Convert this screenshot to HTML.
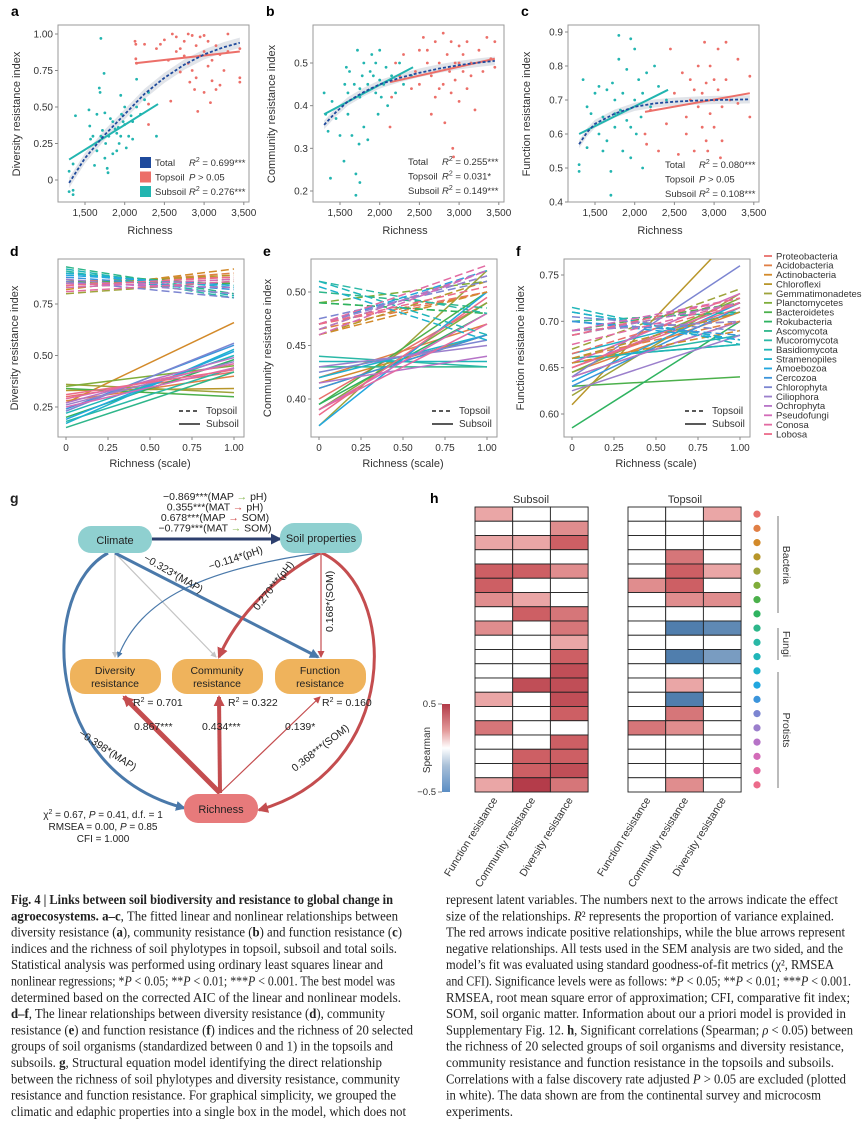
<!DOCTYPE html>
<html><head><meta charset="utf-8"><style>
html,body{margin:0;padding:0;background:#fff}
svg{display:block;font-family:"Liberation Sans",sans-serif}
</style></head><body>
<svg id="fig" width="865" height="1124" viewBox="0 0 865 1124" xmlns="http://www.w3.org/2000/svg">
<defs>
<marker id="mBlue" markerWidth="6" markerHeight="6" refX="5" refY="3" orient="auto" markerUnits="userSpaceOnUse" viewBox="0 0 6 6"><path d="M0,0 L6,3 L0,6 z" fill="#4a79aa"/></marker>
<marker id="mRed" markerWidth="7" markerHeight="7" refX="6" refY="3.5" orient="auto" markerUnits="userSpaceOnUse" viewBox="0 0 7 7"><path d="M0,0 L7,3.5 L0,7 z" fill="#c44d4f"/></marker>
<marker id="mRedBig" markerWidth="11" markerHeight="11" refX="9" refY="5.5" orient="auto" markerUnits="userSpaceOnUse" viewBox="0 0 11 11"><path d="M0,0 L11,5.5 L0,11 z" fill="#c44d4f"/></marker>
<marker id="mBlueBig" markerWidth="10" markerHeight="10" refX="8" refY="5" orient="auto" markerUnits="userSpaceOnUse" viewBox="0 0 10 10"><path d="M0,0 L10,5 L0,10 z" fill="#4a79aa"/></marker>
<marker id="mNavy" markerWidth="11" markerHeight="11" refX="9" refY="5.5" orient="auto" markerUnits="userSpaceOnUse" viewBox="0 0 11 11"><path d="M0,0 L11,5.5 L0,11 z" fill="#2d3f6e"/></marker>
<marker id="mGray" markerWidth="6" markerHeight="6" refX="5" refY="3" orient="auto" markerUnits="userSpaceOnUse" viewBox="0 0 6 6"><path d="M0,0 L6,3 L0,6 z" fill="#c4c4c4"/></marker>
<linearGradient id="cbar" x1="0" y1="0" x2="0" y2="1">
<stop offset="0" stop-color="#b23a48"/><stop offset="0.3" stop-color="#e39a9a"/><stop offset="0.5" stop-color="#ffffff"/><stop offset="0.7" stop-color="#a9c0d8"/><stop offset="1" stop-color="#5a8dc4"/>
</linearGradient>
</defs>
<g id="panels-abc"></g>
<g id="panels-def"></g>

<g id="panel-g" font-size="10.5" fill="#222">
<text x="10" y="503" font-size="14" font-weight="bold">g</text>
<g text-anchor="middle" font-size="10.5">
<text x="215" y="500">−0.869***(MAP<tspan fill="#8dbb5a"> → </tspan>pH)</text>
<text x="215" y="510.5">0.355***(MAT<tspan fill="#d0504f"> → </tspan>pH)</text>
<text x="215" y="521">0.678***(MAP<tspan fill="#d0504f"> → </tspan>SOM)</text>
<text x="215" y="531.5">−0.779***(MAT<tspan fill="#8dbb5a"> → </tspan>SOM)</text>
</g>
<path d="M152,539 L280,539" stroke="#2d3f6e" stroke-width="3" fill="none" marker-end="url(#mNavy)"/>
<path d="M115,553 L115,657" stroke="#c4c4c4" stroke-width="1.2" fill="none" marker-end="url(#mGray)"/>
<path d="M115,553 L216,657" stroke="#c4c4c4" stroke-width="1.2" fill="none" marker-end="url(#mGray)"/>
<path d="M115,553 L318,657" stroke="#4a79aa" stroke-width="3" fill="none" marker-end="url(#mBlueBig)"/>
<path d="M108,553 C40,590 40,770 184,808" stroke="#4a79aa" stroke-width="3" fill="none" marker-end="url(#mBlueBig)"/>
<path d="M318,553 C200,570 140,600 118,657" stroke="#4a79aa" stroke-width="1.2" fill="none" marker-end="url(#mBlue)"/>
<path d="M320,553 C270,580 235,620 219,657" stroke="#c44d4f" stroke-width="3" fill="none" marker-end="url(#mRedBig)"/>
<path d="M321,553 L321,657" stroke="#c44d4f" stroke-width="1.2" fill="none" marker-end="url(#mRed)"/>
<path d="M322,553 C400,590 400,770 259,810" stroke="#c44d4f" stroke-width="3" fill="none" marker-end="url(#mRedBig)"/>
<path d="M220,793 L124,697" stroke="#c44d4f" stroke-width="5" fill="none" marker-end="url(#mRedBig)"/>
<path d="M220,793 L219,697" stroke="#c44d4f" stroke-width="4" fill="none" marker-end="url(#mRedBig)"/>
<path d="M220,793 L320,697" stroke="#c44d4f" stroke-width="1.2" fill="none" marker-end="url(#mRed)"/>
<rect x="78" y="526" width="74" height="27" rx="13" fill="#8fd0d0"/>
<text x="115" y="544" text-anchor="middle" font-size="11">Climate</text>
<rect x="280" y="523" width="82" height="30" rx="14" fill="#8fd0d0"/>
<text x="321" y="542" text-anchor="middle" font-size="11">Soil properties</text>
<rect x="70" y="659" width="91" height="35" rx="15" fill="#efb35c"/>
<text x="115" y="674" text-anchor="middle" font-size="10.5">Diversity</text><text x="115" y="687" text-anchor="middle" font-size="10.5">resistance</text>
<rect x="172" y="659" width="91" height="35" rx="15" fill="#efb35c"/>
<text x="217" y="674" text-anchor="middle" font-size="10.5">Community</text><text x="217" y="687" text-anchor="middle" font-size="10.5">resistance</text>
<rect x="275" y="659" width="91" height="35" rx="15" fill="#efb35c"/>
<text x="320" y="674" text-anchor="middle" font-size="10.5">Function</text><text x="320" y="687" text-anchor="middle" font-size="10.5">resistance</text>
<rect x="184" y="794" width="74" height="29" rx="14" fill="#e77a7b"/>
<text x="221" y="813" text-anchor="middle" font-size="11">Richness</text>
<text x="133" y="706" font-size="10.5">R<tspan font-size="7" dy="-4">2</tspan><tspan dy="4"> = 0.701</tspan></text>
<text x="228" y="706" font-size="10.5">R<tspan font-size="7" dy="-4">2</tspan><tspan dy="4"> = 0.322</tspan></text>
<text x="322" y="706" font-size="10.5">R<tspan font-size="7" dy="-4">2</tspan><tspan dy="4"> = 0.160</tspan></text>
<text x="134" y="730" font-size="10.5">0.867***</text>
<text x="202" y="730" font-size="10.5">0.434***</text>
<text x="285" y="730" font-size="10.5">0.139*</text>
<text transform="translate(143,560) rotate(30)" font-size="10.5">−0.323*(MAP)</text>
<text transform="translate(210,570) rotate(-18)" font-size="10.5">−0.114*(pH)</text>
<text transform="translate(258,611) rotate(-52)" font-size="10.5">0.270***(pH)</text>
<text transform="translate(333,632) rotate(-90)" font-size="10.5">0.168*(SOM)</text>
<text transform="translate(78,735) rotate(33)" font-size="10.5">−0.398*(MAP)</text>
<text transform="translate(295,772) rotate(-38)" font-size="10.5">0.368***(SOM)</text>
<g text-anchor="middle" font-size="10">
<text x="103" y="818">χ<tspan font-size="7" dy="-4">2</tspan><tspan dy="4"> = 0.67, </tspan><tspan font-style="italic">P</tspan> = 0.41, d.f. = 1</text>
<text x="103" y="830">RMSEA = 0.00, <tspan font-style="italic">P</tspan> = 0.85</text>
<text x="103" y="842">CFI = 1.000</text>
</g>
</g>

<g id="panel-h">
<text x="430" y="503" font-size="14" font-weight="bold">h</text>
<text x="531" y="503" text-anchor="middle" font-size="11" fill="#333">Subsoil</text>
<text x="685" y="503" text-anchor="middle" font-size="11" fill="#333">Topsoil</text>
<rect x="442" y="704" width="8" height="88" fill="url(#cbar)"/>
<line x1="438" y1="704" x2="442" y2="704" stroke="#888"/><line x1="438" y1="792" x2="442" y2="792" stroke="#888"/>
<text x="436" y="707" text-anchor="end" font-size="9.5" fill="#333">0.5</text>
<text x="436" y="795" text-anchor="end" font-size="9.5" fill="#333">−0.5</text>
<text transform="translate(430,750) rotate(-90)" text-anchor="middle" font-size="10" fill="#333">Spearman</text>
<g id="heat-cells"></g>
<g id="heat-dots"></g>
<line x1="778" y1="516" x2="778" y2="613" stroke="#555" stroke-width="0.8"/>
<line x1="778" y1="628" x2="778" y2="660" stroke="#555" stroke-width="0.8"/>
<line x1="778" y1="672" x2="778" y2="788" stroke="#555" stroke-width="0.8"/>
<text transform="translate(783,565) rotate(90)" text-anchor="middle" font-size="10.5" fill="#333">Bacteria</text>
<text transform="translate(783,644) rotate(90)" text-anchor="middle" font-size="10.5" fill="#333">Fungi</text>
<text transform="translate(783,730) rotate(90)" text-anchor="middle" font-size="10.5" fill="#333">Protists</text>
<g id="heat-xlabels" font-size="10.5" fill="#333"></g>
</g>

<g id="caption" font-family="Liberation Serif, serif" font-size="13.5" fill="#222"></g>
</svg>
<script>
const NS = 'http://www.w3.org/2000/svg';
function mk(tag, attrs, parent, txt) {
  const e = document.createElementNS(NS, tag);
  for (const k in attrs) e.setAttribute(k, attrs[k]);
  if (txt !== undefined) e.textContent = txt;
  if (parent) parent.appendChild(e);
  return e;
}

const aSubX = [1300,1300,1350,1350,1350,1380,1550,1560,1570,1600,1620,1650,1680,1690,1700,1720,1740,1750,1760,1780,1790,1800,1820,1850,1880,1900,1920,1930,1950,1960,1980,2000,2020,2050,2080,2100,2150,2150,2200,2250,2300,2400,1850,1950,1750,1900,2000,1650,1700,2100];
const aSubY = [0.06,-0.08,-0.1,-0.07,0.11,0.44,0.48,0.37,0.28,0.3,0.1,0.2,0.63,0.6,0.97,0.34,0.73,0.46,0.25,0.08,0.05,0.3,0.42,0.18,0.35,0.32,0.36,0.25,0.58,0.45,0.4,0.38,0.22,0.3,0.44,0.28,0.5,0.69,0.45,0.55,0.6,0.3,0.4,0.3,0.15,0.2,0.5,0.45,0.3,0.4];
const aTopX = [2130,2140,2140,2150,2250,2300,2300,2400,2450,2500,2550,2580,2600,2650,2700,2700,2750,2800,2800,2820,2850,2880,2900,2900,2920,2950,2950,3000,3000,3050,3050,3080,3100,3100,3150,3150,3200,3250,3300,3300,3450,3450,3450,2750,2650,3000,2850,3200];
const aTopY = [0.95,0.93,0.83,0.8,0.93,0.52,0.38,0.9,0.93,0.96,0.82,0.54,1.0,0.98,0.9,0.74,0.95,1.0,0.8,0.67,0.99,0.62,0.92,0.7,0.47,0.85,0.98,0.6,0.88,0.78,0.95,0.53,0.82,0.68,0.92,0.62,0.86,0.75,1.0,0.88,0.7,0.67,0.9,0.85,0.88,0.99,0.75,0.65];
const aTotalFitX = [1300,1500,1750,2000,2250,2500,2750,3000,3250,3450];
const aTotalFitY = [-0.02,0.15,0.31,0.45,0.59,0.7,0.79,0.86,0.91,0.94];
const aTopFit = [2130,0.8,3450,0.88];
const aSubFit = [1300,0.14,2420,0.52];

const bSubX = [1300,1320,1350,1380,1400,1450,1500,1550,1560,1580,1600,1620,1650,1680,1700,1700,1720,1740,1750,1750,1780,1800,1800,1850,1850,1880,1900,1900,1920,1950,1950,1980,2000,2000,2020,2050,2080,2100,2150,2200,2250,2300,2400,1600,1750];
const bSubY = [0.43,0.38,0.34,0.23,0.41,0.37,0.33,0.27,0.45,0.49,0.43,0.48,0.33,0.45,0.19,0.24,0.53,0.31,0.22,0.42,0.47,0.35,0.5,0.45,0.32,0.48,0.44,0.52,0.47,0.43,0.5,0.38,0.46,0.53,0.42,0.45,0.49,0.4,0.47,0.43,0.5,0.45,0.47,0.38,0.44];
const bTopX = [2130,2150,2200,2250,2300,2400,2450,2500,2500,2550,2600,2650,2650,2700,2700,2750,2800,2800,2820,2850,2880,2900,2900,2920,2930,2950,2950,3000,3000,3050,3050,3100,3100,3150,3150,3200,3250,3300,3350,3400,3450,3450,2600,2750,3000];
const bTopY = [0.35,0.42,0.5,0.47,0.52,0.44,0.48,0.53,0.45,0.56,0.5,0.38,0.47,0.55,0.42,0.5,0.57,0.45,0.36,0.52,0.48,0.55,0.43,0.3,0.28,0.5,0.46,0.54,0.41,0.48,0.52,0.44,0.55,0.5,0.47,0.39,0.53,0.48,0.56,0.51,0.55,0.49,0.53,0.44,0.5];
const bTotalFitX = [1300,1450,1600,1800,2000,2250,2500,2750,3000,3250,3450];
const bTotalFitY = [0.355,0.385,0.41,0.432,0.45,0.465,0.477,0.487,0.495,0.501,0.505];
const bTopFit = [2130,0.455,3450,0.51];
const bSubFit = [1300,0.38,2420,0.49];

const cSubX = [1300,1300,1350,1400,1400,1450,1500,1550,1550,1600,1650,1650,1700,1700,1720,1750,1750,1800,1800,1820,1850,1850,1900,1900,1950,1950,2000,2000,2020,2050,2080,2100,2100,2150,2200,2250,2300,2400,1600,1750,1950];
const cSubY = [0.51,0.49,0.76,0.68,0.56,0.66,0.72,0.6,0.74,0.65,0.73,0.58,0.42,0.49,0.75,0.62,0.7,0.89,0.82,0.67,0.55,0.72,0.64,0.79,0.88,0.53,0.85,0.7,0.6,0.76,0.65,0.5,0.72,0.78,0.68,0.8,0.74,0.7,0.55,0.66,0.62];
const cTopX = [2130,2150,2200,2300,2400,2450,2500,2550,2600,2650,2650,2700,2700,2750,2800,2800,2850,2850,2880,2900,2900,2920,2950,2950,3000,3000,3050,3050,3080,3100,3100,3150,3150,3200,3300,3300,3450,3450,2750,3000];
const cTopY = [0.6,0.57,0.67,0.55,0.63,0.85,0.72,0.54,0.78,0.65,0.6,0.76,0.7,0.55,0.8,0.68,0.72,0.62,0.87,0.75,0.58,0.55,0.66,0.8,0.7,0.62,0.85,0.73,0.53,0.68,0.58,0.76,0.87,0.7,0.82,0.69,0.77,0.65,0.73,0.76];
const cTotalFitX = [1300,1400,1500,1750,2000,2250,2500,2750,3000,3250,3450];
const cTotalFitY = [0.57,0.605,0.63,0.66,0.68,0.69,0.695,0.698,0.7,0.701,0.702];
const cTopFit = [2130,0.665,3450,0.72];
const cSubFit = [1300,0.6,2420,0.73];

const xTicksRich = [1500,2000,2500,3000,3500];
const xTickLabelsRich = ['1,500','2,000','2,500','3,000','3,500'];
const aYTicks = [0,0.25,0.5,0.75,1.0];
const aYTickLabels = ['0','0.25','0.50','0.75','1.00'];
const bYTicks = [0.2,0.3,0.4,0.5];
const bYTickLabels = ['0.2','0.3','0.4','0.5'];
const cYTicks = [0.4,0.5,0.6,0.7,0.8,0.9];
const cYTickLabels = ['0.4','0.5','0.6','0.7','0.8','0.9'];

const TEAL = '#22b5b0', RED = '#ec6f69', NAVY = '#1f4a9c';

function scatterPanel(cfg) {
  const root = document.getElementById('panels-abc');
  const g = mk('g', {}, root);
  
  
  const X = v => cfg.x0 + (v - 1500) / 500 * 39.7;
  const Y = v => cfg.yA + (v - cfg.vA) / (cfg.vB - cfg.vA) * (cfg.yB - cfg.yA);
  const L = mk('text', {x: cfg.left - 47, y: 16, 'font-size': 14, 'font-weight': 'bold'}, g, cfg.letter);
  
  
  const frame = mk('rect', {x: cfg.left, y: 25, width: 191, height: 177, fill: '#fff', stroke: '#9a9a9a', 'stroke-width': 1}, g);
  
  
  cfg.yt.forEach((t, i) => {
    mk('line', {x1: cfg.left - 3, x2: cfg.left, y1: Y(t), y2: Y(t), stroke: '#888'}, g);
    const tl = mk('text', {x: cfg.left - 5, y: Y(t) + 3.5, 'text-anchor': 'end', 'font-size': 10, fill: '#333'}, g, cfg.ytl[i]);
    
    
  });
  xTicksRich.forEach((t, i) => {
    mk('line', {x1: X(t), x2: X(t), y1: 202, y2: 205, stroke: '#888'}, g);
    const tl = mk('text', {x: X(t), y: 216, 'text-anchor': 'middle', 'font-size': 10, fill: '#333'}, g, xTickLabelsRich[i]);
    
    
  });
  const xt = mk('text', {x: cfg.left + 92, y: 234, 'text-anchor': 'middle', 'font-size': 11, fill: '#333'}, g, 'Richness');
  
  
  const yt = mk('text', {transform: `translate(${cfg.left - 38},114) rotate(-90)`, 'text-anchor': 'middle', 'font-size': 11, fill: '#333'}, g, cfg.ytitle);
  
  
  let up = [], dn = [];
  cfg.fx.forEach((v, i) => { up.push(X(v) + ',' + Y(cfg.fy[i] + cfg.band)); dn.unshift(X(v) + ',' + Y(cfg.fy[i] - cfg.band)); });
  const band = mk('polygon', {points: up.concat(dn).join(' '), fill: '#d9dde3', opacity: 0.8}, g);
  
  
  cfg.sx.forEach((v, i) => {
    const c = mk('circle', {cx: X(v), cy: Y(cfg.sy[i]), r: 1.4, fill: TEAL}, g);
    
    
  });
  cfg.tx.forEach((v, i) => {
    const c = mk('circle', {cx: X(v), cy: Y(cfg.ty[i]), r: 1.4, fill: RED}, g);
    
    
  });
  const tf = mk('line', {x1: X(cfg.tfit[0]), y1: Y(cfg.tfit[1]), x2: X(cfg.tfit[2]), y2: Y(cfg.tfit[3]), stroke: RED, 'stroke-width': 2}, g);
  
  
  const sf = mk('line', {x1: X(cfg.sfit[0]), y1: Y(cfg.sfit[1]), x2: X(cfg.sfit[2]), y2: Y(cfg.sfit[3]), stroke: TEAL, 'stroke-width': 2}, g);
  
  
  const tot = mk('polyline', {points: cfg.fx.map((v, i) => X(v) + ',' + Y(cfg.fy[i])).join(' '), fill: 'none', stroke: NAVY, 'stroke-width': 1.8, 'stroke-dasharray': '3,2'}, g);
  
  
  const lg = mk('g', {'font-size': 9.5, fill: '#333'}, g);
  
  
  const names = ['Total', 'Topsoil', 'Subsoil'], cols = [NAVY, RED, TEAL];
  names.forEach((n, i) => {
    const yy = cfg.legY + i * 14.5;
    if (cfg.sw) {
      const s = mk('rect', {x: cfg.legX - 15, y: yy - 9, width: 11, height: 11, fill: cols[i]}, lg);
      
      
    }
    const t = mk('text', {x: cfg.legX, y: yy}, lg, n);
    
    
    const st = mk('text', {x: cfg.legX + 34, y: yy}, lg);
    st.innerHTML = cfg.stats[i];
  });
}
const R2 = v => `<tspan font-style="italic">R</tspan><tspan font-size="7" dy="-4">2</tspan><tspan dy="4"> = ${v}</tspan>`;
const PNS = `<tspan font-style="italic">P</tspan> &gt; 0.05`;
scatterPanel({letter:'a', left:58, x0:85, yA:180, vA:0, yB:34, vB:1.0, yt:aYTicks, ytl:aYTickLabels, ytitle:'Diversity resistance index',
  sx:aSubX, sy:aSubY, tx:aTopX, ty:aTopY, fx:aTotalFitX, fy:aTotalFitY, tfit:aTopFit, sfit:aSubFit, band:0.035,
  legX:155, legY:166, sw:true, stats:[R2('0.699***'), PNS, R2('0.276***')]});
scatterPanel({letter:'b', left:313, x0:340, yA:191, vA:0.2, yB:63, vB:0.5, yt:bYTicks, ytl:bYTickLabels, ytitle:'Community resistance index',
  sx:bSubX, sy:bSubY, tx:bTopX, ty:bTopY, fx:bTotalFitX, fy:bTotalFitY, tfit:bTopFit, sfit:bSubFit, band:0.01,
  legX:408, legY:165, sw:false, stats:[R2('0.255***'), R2('0.031*'), R2('0.149***')]});
scatterPanel({letter:'c', left:568, x0:595, yA:202, vA:0.4, yB:32, vB:0.9, yt:cYTicks, ytl:cYTickLabels, ytitle:'Function resistance index',
  sx:cSubX, sy:cSubY, tx:cTopX, ty:cTopY, fx:cTotalFitX, fy:cTotalFitY, tfit:cTopFit, sfit:cSubFit, band:0.012,
  legX:665, legY:168, sw:false, stats:[R2('0.080***'), PNS, R2('0.108***')]});

const groups = ['Proteobacteria','Acidobacteria','Actinobacteria','Chloroflexi','Gemmatimonadetes','Planctomycetes','Bacteroidetes','Rokubacteria','Ascomycota','Mucoromycota','Basidiomycota','Stramenopiles','Amoebozoa','Cercozoa','Chlorophyta','Ciliophora','Ochrophyta','Pseudofungi','Conosa','Lobosa'];
const groupColors = ['#e8706b','#e07f45','#d38a2a','#b8962a','#9ea33a','#7fad3a','#4bb04b','#2fb360','#2eb68a','#2ab8a6','#20b6b8','#1eb2cc','#22a7df','#3b94db','#7c85d1','#9b7fcc','#b673c7','#d36bb8','#e26aa2','#ec6b8a'];
const dTopStart = [0.86,0.84,0.82,0.85,0.80,0.83,0.86,0.90,0.93,0.91,0.92,0.90,0.89,0.88,0.86,0.87,0.85,0.83,0.81,0.84];
const dTopEnd   = [0.88,0.90,0.92,0.89,0.86,0.87,0.85,0.84,0.80,0.78,0.79,0.83,0.84,0.82,0.78,0.80,0.83,0.87,0.86,0.88];
const dSubStart = [0.30,0.28,0.27,0.33,0.36,0.35,0.34,0.20,0.15,0.18,0.22,0.17,0.19,0.24,0.23,0.26,0.27,0.25,0.29,0.31];
const dSubEnd   = [0.42,0.40,0.66,0.34,0.32,0.45,0.30,0.48,0.42,0.44,0.50,0.53,0.52,0.55,0.56,0.47,0.49,0.44,0.46,0.43];
const eTopStart = [0.47,0.465,0.46,0.46,0.465,0.49,0.49,0.49,0.50,0.51,0.51,0.505,0.47,0.47,0.475,0.47,0.465,0.46,0.47,0.47];
const eTopEnd   = [0.50,0.50,0.50,0.51,0.52,0.51,0.48,0.48,0.485,0.48,0.46,0.455,0.52,0.515,0.51,0.515,0.52,0.52,0.525,0.505];
const eSubStart = [0.40,0.42,0.415,0.41,0.375,0.39,0.395,0.395,0.43,0.44,0.435,0.42,0.375,0.41,0.425,0.43,0.415,0.39,0.39,0.385];
const eSubEnd   = [0.49,0.47,0.46,0.46,0.52,0.49,0.50,0.48,0.43,0.43,0.435,0.46,0.50,0.46,0.455,0.45,0.44,0.48,0.47,0.495];
const fTopStart = [0.665,0.66,0.655,0.66,0.67,0.685,0.69,0.69,0.70,0.71,0.715,0.71,0.70,0.70,0.705,0.69,0.685,0.69,0.675,0.685];
const fTopEnd   = [0.72,0.70,0.69,0.71,0.735,0.72,0.72,0.70,0.71,0.68,0.675,0.68,0.68,0.685,0.69,0.70,0.72,0.725,0.72,0.725];
const fSubStart = [0.65,0.645,0.64,0.61,0.62,0.645,0.63,0.585,0.66,0.655,0.66,0.665,0.635,0.63,0.64,0.625,0.64,0.655,0.65,0.65];
const fSubEnd   = [0.72,0.71,0.70,0.80,0.73,0.725,0.64,0.70,0.675,0.685,0.675,0.71,0.72,0.715,0.76,0.685,0.70,0.73,0.72,0.715];
const scaleTicks = [0,0.25,0.5,0.75,1];
const scaleTickLabels = ['0','0.25','0.50','0.75','1.00'];
const dYTicks = [0.25,0.5,0.75]; const dYTickLabels = ['0.25','0.50','0.75'];
const eYTicks = [0.4,0.45,0.5]; const eYTickLabels = ['0.40','0.45','0.50'];
const fYTicks = [0.6,0.65,0.7,0.75]; const fYTickLabels = ['0.60','0.65','0.70','0.75'];

function linePanel(cfg) {
  const root = document.getElementById('panels-def');
  const g = mk('g', {}, root);
  
  
  const X = v => cfg.left + 8 + v * 168;
  const Y = v => cfg.yA + (v - cfg.vA) / (cfg.vB - cfg.vA) * (cfg.yB - cfg.yA);
  const L = mk('text', {x: cfg.left - 48, y: 256, 'font-size': 14, 'font-weight': 'bold'}, g, cfg.letter);
  
  
  const cid = 'clip' + cfg.letter;
  const cp = mk('clipPath', {id: cid}, g);
  mk('rect', {x: cfg.left, y: 259, width: 186, height: 178}, cp);
  const frame = mk('rect', {x: cfg.left, y: 259, width: 186, height: 178, fill: '#fff', stroke: '#9a9a9a'}, g);
  
  
  cfg.yt.forEach((t, i) => {
    mk('line', {x1: cfg.left - 3, x2: cfg.left, y1: Y(t), y2: Y(t), stroke: '#888'}, g);
    const tl = mk('text', {x: cfg.left - 5, y: Y(t) + 3.5, 'text-anchor': 'end', 'font-size': 10, fill: '#333'}, g, cfg.ytl[i]);
    
    
  });
  scaleTicks.forEach((t, i) => {
    mk('line', {x1: X(t), x2: X(t), y1: 437, y2: 440, stroke: '#888'}, g);
    const tl = mk('text', {x: X(t), y: 451, 'text-anchor': 'middle', 'font-size': 10, fill: '#333'}, g, scaleTickLabels[i]);
    
    
  });
  const xt = mk('text', {x: cfg.left + 92, y: 467, 'text-anchor': 'middle', 'font-size': 11, fill: '#333'}, g, 'Richness (scale)');
  
  
  const yt = mk('text', {transform: `translate(${cfg.left - 40},348) rotate(-90)`, 'text-anchor': 'middle', 'font-size': 11, fill: '#333'}, g, cfg.ytitle);
  
  
  const lines = mk('g', {'clip-path': `url(#${cid})`}, g);
  groups.forEach((n, i) => {
    const s = mk('line', {x1: X(0), y1: Y(cfg.ss[i]), x2: X(1), y2: Y(cfg.se[i]), stroke: groupColors[i], 'stroke-width': 1.5}, lines);
    
    
  });
  groups.forEach((n, i) => {
    const t = mk('line', {x1: X(0), y1: Y(cfg.ts[i]), x2: X(1), y2: Y(cfg.te[i]), stroke: groupColors[i], 'stroke-width': 1.5, 'stroke-dasharray': '8,4'}, lines);
    
    
  });
  const lg = mk('g', {'font-size': 10, fill: '#333'}, g);
  
  
  mk('line', {x1: cfg.left + 121, x2: cfg.left + 142, y1: 411, y2: 411, stroke: '#222', 'stroke-width': 1.6, 'stroke-dasharray': '4,3'}, lg);
  mk('text', {x: cfg.left + 148, y: 414}, lg, 'Topsoil');
  mk('line', {x1: cfg.left + 121, x2: cfg.left + 142, y1: 424, y2: 424, stroke: '#222', 'stroke-width': 1.6}, lg);
  mk('text', {x: cfg.left + 148, y: 427}, lg, 'Subsoil');
}
linePanel({letter:'d', left:58, yA:407, vA:0.25, yB:304, vB:0.75, yt:dYTicks, ytl:dYTickLabels, ytitle:'Diversity resistance index', ts:dTopStart, te:dTopEnd, ss:dSubStart, se:dSubEnd});
linePanel({letter:'e', left:311, yA:399, vA:0.4, yB:292, vB:0.5, yt:eYTicks, ytl:eYTickLabels, ytitle:'Community resistance index', ts:eTopStart, te:eTopEnd, ss:eSubStart, se:eSubEnd});
linePanel({letter:'f', left:564, yA:414, vA:0.6, yB:275, vB:0.75, yt:fYTicks, ytl:fYTickLabels, ytitle:'Function resistance index', ts:fTopStart, te:fTopEnd, ss:fSubStart, se:fSubEnd});

(function(){
  const root = document.getElementById('panels-def');
  const lg = mk('g', {'font-size': 9.5, fill: '#333'}, root);
  
  
  groups.forEach((n, i) => {
    const y = 256 + i * 9.37;
    mk('line', {x1: 764, x2: 772, y1: y, y2: y, stroke: groupColors[i], 'stroke-width': 1.8}, lg);
    const t = mk('text', {x: 776, y: y + 3.3}, lg, n);
    
    
  });
})();

const subFunc = [0.14,0,0.14,0,0.35,0.35,0.21,0,0.21,0,0,0,0,0.14,0,0.28,0,0,0,0.14];
const subComm = [0,0,0.14,0,0.35,0,0.14,0.35,0,0,0,0,0.42,0,0,0,0,0.35,0.35,0.49];
const subDiv  = [0,0.21,0.35,0,0.21,0,0,0.28,0.28,0.14,0.35,0.42,0.42,0.42,0.35,0,0.35,0.35,0.42,0.28];
const topFunc = [0,0,0,0,0,0.21,0,0,0,0,0,0,0,0,0,0.28,0,0,0,0];
const topComm = [0,0,0,0.28,0.35,0.35,0.21,0,-0.42,0,-0.42,0,0.14,-0.42,0.28,0.21,0,0,0,0.21];
const topDiv  = [0.14,0,0,0,0.14,0,0.21,0,-0.35,0,-0.28,0,0,0,0,0,0,0,0,0];
const heatCols = ['Function resistance','Community resistance','Diversity resistance'];

function lerp(a, b, t) { return a.map((v, i) => Math.round(v + (b[i] - v) * t)); }
function heatColor(v) {
  if (v === 0) return '#ffffff';
  const t = Math.min(1, Math.abs(v) / 0.5);
  let c;
  if (v > 0) {
    const s = [[255,255,255],[232,160,160],[205,95,100],[178,58,72]], p = [0, 0.3, 0.7, 1];
    let k = t < 0.3 ? 0 : t < 0.7 ? 1 : 2;
    c = lerp(s[k], s[k+1], (t - p[k]) / (p[k+1] - p[k]));
  } else {
    const s = [[255,255,255],[169,192,216],[86,130,176],[70,118,168]], p = [0, 0.3, 0.75, 1];
    let k = t < 0.3 ? 0 : t < 0.75 ? 1 : 2;
    c = lerp(s[k], s[k+1], (t - p[k]) / (p[k+1] - p[k]));
  }
  return `rgb(${c[0]},${c[1]},${c[2]})`;
}
(function(){
  const cells = document.getElementById('heat-cells');
  const cw = 37.7, rh = 14.25, top = 507;
  const blocks = [{x: 475, data: [subFunc, subComm, subDiv], name: 'subsoil'}, {x: 628, data: [topFunc, topComm, topDiv], name: 'topsoil'}];
  blocks.forEach(b => {
    b.data.forEach((col, ci) => {
      col.forEach((v, ri) => {
        const r = mk('rect', {x: b.x + ci * cw, y: top + ri * rh, width: cw, height: rh, fill: heatColor(v), stroke: '#222', 'stroke-width': 0.9}, cells);
        
        
      });
    });
    const xl = document.getElementById('heat-xlabels');
    heatCols.forEach((n, ci) => {
      const t = mk('text', {transform: `translate(${b.x + ci * cw + cw / 2 + 4},800) rotate(-58)`, 'text-anchor': 'end'}, xl, n);
      
      
    });
  });
  const dots = document.getElementById('heat-dots');
  groups.forEach((n, i) => {
    const d = mk('circle', {cx: 757, cy: top + i * rh + rh / 2, r: 3.6, fill: groupColors[i]}, dots);
    
    
  });
})();

const capLeft = [
 '<tspan font-weight="bold">Fig. 4 | Links between soil biodiversity and resistance to global change in</tspan>',
 '<tspan font-weight="bold">agroecosystems. a–c</tspan>, The fitted linear and nonlinear relationships between',
 'diversity resistance (<tspan font-weight="bold">a</tspan>), community resistance (<tspan font-weight="bold">b</tspan>) and function resistance (<tspan font-weight="bold">c</tspan>)',
 'indices and the richness of soil phylotypes in topsoil, subsoil and total soils.',
 'Statistical analysis was performed using ordinary least squares linear and',
 'nonlinear regressions; *<tspan font-style="italic">P</tspan> &lt; 0.05; **<tspan font-style="italic">P</tspan> &lt; 0.01; ***<tspan font-style="italic">P</tspan> &lt; 0.001. The best model was',
 'determined based on the corrected AIC of the linear and nonlinear models.',
 '<tspan font-weight="bold">d–f</tspan>, The linear relationships between diversity resistance (<tspan font-weight="bold">d</tspan>), community',
 'resistance (<tspan font-weight="bold">e</tspan>) and function resistance (<tspan font-weight="bold">f</tspan>) indices and the richness of 20 selected',
 'groups of soil organisms (standardized between 0 and 1) in the topsoils and',
 'subsoils. <tspan font-weight="bold">g</tspan>, Structural equation model identifying the direct relationship',
 'between the richness of soil phylotypes and diversity resistance, community',
 'resistance and function resistance. For graphical simplicity, we grouped the',
 'climatic and edaphic properties into a single box in the model, which does not'];
const capLeftEnd = [393,398,402,397,383,395,401,385,413,393,382,400,396,406];
const capRight = [
 'represent latent variables. The numbers next to the arrows indicate the effect',
 'size of the relationships. <tspan font-style="italic">R</tspan>² represents the proportion of variance explained.',
 'The red arrows indicate positive relationships, while the blue arrows represent',
 'negative relationships. All tests used in the SEM analysis are two sided, and the',
 'model’s fit was evaluated using standard goodness-of-fit metrics (χ², RMSEA',
 'and CFI). Significance levels were as follows: *<tspan font-style="italic">P</tspan> &lt; 0.05; **<tspan font-style="italic">P</tspan> &lt; 0.01; ***<tspan font-style="italic">P</tspan> &lt; 0.001.',
 'RMSEA, root mean square error of approximation; CFI, comparative fit index;',
 'SOM, soil organic matter. Information about our a priori model is provided in',
 'Supplementary Fig. 12. <tspan font-weight="bold">h</tspan>, Significant correlations (Spearman; <tspan font-style="italic">ρ</tspan> &lt; 0.05) between',
 'the richness of 20 selected groups of soil organisms and diversity resistance,',
 'community resistance and function resistance in the topsoils and subsoils.',
 'Correlations with a false discovery rate adjusted <tspan font-style="italic">P</tspan> &gt; 0.05 are excluded (plotted',
 'in white). The data shown are from the continental survey and microcosm',
 'experiments.'];
const capRightEnd = [838,834,845,843,834,851,850,846,853,844,834,846,821,513];
(function(){
  const cap = document.getElementById('caption');
  capLeft.forEach((s, i) => {
    const t = mk('text', {x: 11, y: 904 + i * 16.3, textLength: capLeftEnd[i] - 11, lengthAdjust: 'spacingAndGlyphs'}, cap);
    t.innerHTML = s;
  });
  capRight.forEach((s, i) => {
    const t = mk('text', {x: 446, y: 904 + i * 16.3, textLength: capRightEnd[i] - 446, lengthAdjust: 'spacingAndGlyphs'}, cap);
    t.innerHTML = s;
  });
})();
</script>
</body></html>
